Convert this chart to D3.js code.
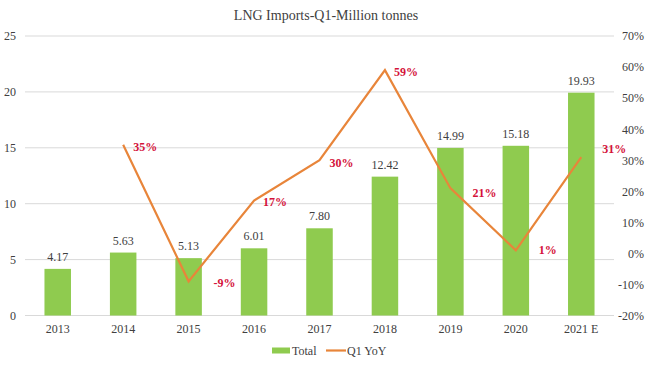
<!DOCTYPE html>
<html><head><meta charset="utf-8">
<script src="https://cdn.jsdelivr.net/npm/d3@7"></script>
<style>body{margin:0;background:#fff}svg{display:block}</style>
</head><body><svg id="c" width="652" height="366"></svg>
<script>
const categories = ["2013","2014","2015","2016","2017","2018","2019","2020","2021 E"];
const totals = [4.17,5.63,5.13,6.01,7.80,12.42,14.99,15.18,19.93];
const yoy = [null,35,-9,17,30,59,21,1,31];
const leftTicks = [0,5,10,15,20,25];
const rightTicks = [-20,-10,0,10,20,30,40,50,60,70];
const yoyLabelDx = [0,10,25,9,10,9,22,23,21];
const yoyLabelDy = [0,6,6,5,7,6,9,4,-4];

const svg = d3.select("#c");
const L = 25, R = 614, T = 36, B = 315.5;
const x = d3.scaleBand().domain(categories).range([L, R]).paddingInner(0.595).paddingOuter(0.2975);
const y = d3.scaleLinear().domain([0,25]).range([B, T]);
const y2 = d3.scaleLinear().domain([-20,70]).range([B, T]);
const serif = "'Liberation Serif','Times New Roman',serif";
const txt = "#404040";

svg.append("text").attr("x", 326).attr("y", 20).attr("text-anchor","middle")
  .attr("font-family", serif).attr("font-size", 14).attr("fill", txt)
  .text("LNG Imports-Q1-Million tonnes");

// grid
svg.append("g").selectAll("line").data(leftTicks).join("line")
  .attr("x1", L).attr("x2", R).attr("y1", d => y(d)).attr("y2", d => y(d))
  .attr("stroke", "#d9d9d9").attr("stroke-width", 1);

// left axis
const la = svg.append("g").attr("transform", `translate(${L},0)`)
  .call(d3.axisLeft(y).tickValues(leftTicks).tickSize(0).tickPadding(9));
la.select(".domain").remove();
la.selectAll("text").attr("font-family", serif).attr("font-size", 12).attr("fill", txt);

// right axis
const ra = svg.append("g").attr("transform", `translate(644,0)`)
  .call(d3.axisLeft(y2).tickValues(rightTicks).tickSize(0).tickPadding(0).tickFormat(d => d + "%"));
ra.select(".domain").remove();
ra.selectAll("text").attr("font-family", serif).attr("font-size", 12).attr("fill", txt);

// x axis
const xa = svg.append("g").attr("transform", `translate(0,${B})`)
  .call(d3.axisBottom(x).tickSize(0).tickPadding(9));
xa.select(".domain").remove();
xa.selectAll("text").attr("font-family", serif).attr("font-size", 12).attr("fill", txt);

// bars
svg.append("g").selectAll("rect").data(totals).join("rect")
  .attr("x", (d,i) => x(categories[i])).attr("width", x.bandwidth())
  .attr("y", d => y(d)).attr("height", d => B - y(d)).attr("fill", "#8fcb4f");

svg.append("g").selectAll("text").data(totals).join("text")
  .attr("x", (d,i) => x(categories[i]) + x.bandwidth()/2).attr("y", d => y(d) - 8)
  .attr("text-anchor","middle").attr("font-family", serif).attr("font-size", 12).attr("fill", txt)
  .text(d => d.toFixed(2));

// line
const pts = yoy.map((v,i) => ({v, i})).filter(d => d.v !== null);
const line = d3.line().x(d => x(categories[d.i]) + x.bandwidth()/2).y(d => y2(d.v));
svg.append("path").datum(pts).attr("d", line).attr("fill","none")
  .attr("stroke", "#e8853a").attr("stroke-width", 2.2).attr("stroke-linejoin","miter");

svg.append("g").selectAll("text").data(pts).join("text")
  .attr("x", d => x(categories[d.i]) + x.bandwidth()/2 + yoyLabelDx[d.i])
  .attr("y", d => y2(d.v) + yoyLabelDy[d.i])
  .attr("font-family", serif).attr("font-size", 12).attr("font-weight","bold").attr("fill", "#d4123a")
  .text(d => d.v + "%");

// legend
const lg = svg.append("g");
lg.append("rect").attr("x", 272).attr("y", 347.5).attr("width", 18).attr("height", 6).attr("fill", "#8fcb4f");
lg.append("text").attr("x", 292).attr("y", 354.5).attr("font-family", serif).attr("font-size", 12).attr("fill", txt).text("Total");
lg.append("line").attr("x1", 326).attr("x2", 346).attr("y1", 350.5).attr("y2", 350.5).attr("stroke", "#e8853a").attr("stroke-width", 2.2);
lg.append("text").attr("x", 347).attr("y", 354.5).attr("font-family", serif).attr("font-size", 12).attr("fill", txt).text("Q1 YoY");
</script></body></html>
